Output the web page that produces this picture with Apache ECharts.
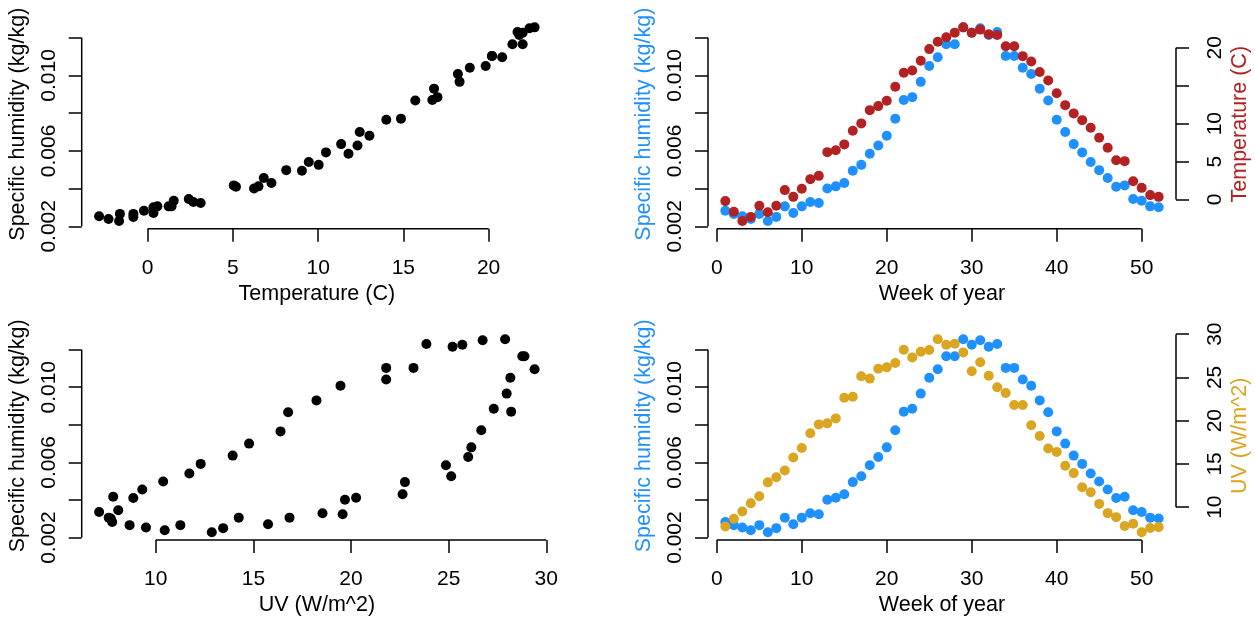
<!DOCTYPE html>
<html>
<head>
<meta charset="utf-8">
<title>Specific humidity, temperature and UV by week</title>
<script src="https://cdn.jsdelivr.net/npm/echarts@6/dist/echarts.min.js"></script>
<style>
  html, body { margin: 0; padding: 0; background: #ffffff; }
  #chart { width: 1255px; height: 617px; }
</style>
</head>
<body>
<div id="chart"></div>
<script>
// Weekly climate values (one entry per week of the year)
const weeks = [1, 2, 3, 4, 5, 6, 7, 8, 9, 10, 11, 12, 13, 14, 15, 16, 17, 18, 19, 20,
  21, 22, 23, 24, 25, 26, 27, 28, 29, 30, 31, 32, 33, 34, 35, 36, 37, 38, 39, 40,
  41, 42, 43, 44, 45, 46, 47, 48, 49, 50, 51, 52];

// Specific humidity (kg/kg)
const humidity = [0.00283, 0.00266, 0.00253, 0.00239, 0.00266, 0.00228, 0.00250, 0.00306,
  0.00271, 0.00306, 0.00329, 0.00324, 0.00401, 0.00412, 0.00430, 0.00495, 0.00526,
  0.00585, 0.00629, 0.00680, 0.00771, 0.00870, 0.00885, 0.00966, 0.01050, 0.01096,
  0.01165, 0.01165, 0.01255, 0.01226, 0.01250, 0.01215, 0.01230, 0.01103, 0.01103,
  0.01041, 0.01008, 0.00930, 0.00867, 0.00765, 0.00700, 0.00636, 0.00592, 0.00541,
  0.00498, 0.00456, 0.00410, 0.00417, 0.00345, 0.00336, 0.00306, 0.00301];

// Temperature (C)
const temperature = [-0.22, -1.63, -2.85, -2.30, -0.84, -1.68, -0.84, 1.23, 0.34, 1.40,
  2.68, 3.11, 6.24, 6.50, 7.26, 9.05, 10.03, 11.78, 12.31, 13.01, 14.86, 16.70, 17.00,
  18.30, 19.83, 20.80, 21.40, 22.00, 22.70, 22.00, 22.40, 21.80, 21.70, 20.20, 20.20,
  18.90, 18.20, 16.80, 15.70, 14.00, 12.44, 11.35, 10.46, 9.45, 8.13, 6.81, 5.18, 5.05,
  2.41, 1.53, 0.57, 0.34];

// UV (W/m^2)
const uv = [7.77, 8.66, 9.50, 10.46, 11.26, 12.87, 13.45, 14.25, 15.75, 16.85, 18.54,
  19.57, 19.69, 20.26, 22.64, 22.76, 25.13, 24.86, 26.00, 26.16, 26.67, 28.20, 27.31,
  27.97, 28.16, 29.40, 28.77, 28.88, 27.89, 25.70, 26.74, 25.20, 23.86, 23.20, 21.80,
  21.80, 19.46, 18.23, 16.78, 16.39, 14.78, 13.94, 12.30, 11.72, 10.38, 9.31, 8.85,
  7.82, 8.08, 7.10, 7.59, 7.70];

// Tick positions and the subset that carries a label
const humidityTicks = [0.002, 0.004, 0.006, 0.008, 0.010, 0.012];
const humidityLabels = [0.002, 0.006, 0.010];
const temperatureTicks = [0, 5, 10, 15, 20];
const temperatureLabelsX = [0, 5, 10, 15, 20];
const temperatureLabelsY = [0, 5, 10, 20];
const weekTicks = [0, 10, 20, 30, 40, 50];
const uvTicks = [10, 15, 20, 25, 30];

const FONT = "'Liberation Sans', Arial, Helvetica, sans-serif";
const BLUE = '#1E90FF';
const RED = '#B22222';
const GOLD = '#DAA520';
const TICK_FONT = 21;
const NAME_FONT = 21.5;

// Axis range padded by 4% on each side
function padRange(values) {
  const lo = Math.min.apply(null, values);
  const hi = Math.max.apply(null, values);
  const d = (hi - lo) * 0.04;
  return [lo - d, hi + d];
}

const humRange = padRange(humidity);
const tempRange = padRange(temperature);
const uvRange = padRange(uv);
const weekRange = padRange(weeks);

const fmtHum = v => v.toFixed(3);
const fmtInt = v => String(Math.round(v));

function xAxisDef(gridIndex, range, ticks, labels, name) {
  return {
    type: 'value', gridIndex: gridIndex, min: range[0], max: range[1],
    position: 'bottom',
    name: name, nameLocation: 'middle', nameGap: 54,
    nameTextStyle: { fontSize: NAME_FONT, color: '#000', fontFamily: FONT },
    axisLine: { show: false, onZero: false }, splitLine: { show: false },
    axisTick: { show: true, customValues: ticks, length: 13, lineStyle: { color: '#000', width: 1.5 } },
    axisLabel: { customValues: labels, fontSize: TICK_FONT, color: '#000', fontFamily: FONT, margin: 29, formatter: fmtInt }
  };
}

function yAxisDef(gridIndex, range, ticks, labels, name, color, position, fmt) {
  const right = position === 'right';
  return {
    type: 'value', gridIndex: gridIndex, min: range[0], max: range[1],
    position: position,
    name: name, nameLocation: 'middle', nameGap: 53,
    nameTextStyle: { fontSize: NAME_FONT, color: color, fontFamily: FONT },
    axisLine: { show: false, onZero: false }, splitLine: { show: false },
    axisTick: { show: true, customValues: ticks, length: 13, lineStyle: { color: '#000', width: 1.5 } },
    axisLabel: { customValues: labels, fontSize: TICK_FONT, color: '#000', fontFamily: FONT,
      rotate: 90, margin: right ? 29 : 22, formatter: fmt }
  };
}

// Axis lines that run from the first to the last tick, drawn at the plot edge
function axisLines(xIndex, yIndex, segments) {
  return {
    type: 'custom', xAxisIndex: xIndex, yAxisIndex: yIndex, silent: true, z: 1,
    data: [[segments[0][0][0], segments[0][0][1]]],
    renderItem: function (params, api) {
      return {
        type: 'group',
        children: segments.map(function (s) {
          const a = api.coord(s[0]);
          const b = api.coord(s[1]);
          return {
            type: 'line',
            shape: { x1: a[0], y1: a[1], x2: b[0], y2: b[1] },
            style: { stroke: '#000', lineWidth: 1.5 }
          };
        })
      };
    }
  };
}

function scatter(xIndex, yIndex, data, color, z) {
  return {
    type: 'scatter', xAxisIndex: xIndex, yAxisIndex: yIndex, data: data,
    symbol: 'circle', symbolSize: 10, z: z,
    itemStyle: { color: color, opacity: 1 },
    emphasis: { disabled: true }
  };
}

const last = a => a[a.length - 1];

const option = {
  animation: false,
  backgroundColor: '#ffffff',
  textStyle: { fontFamily: FONT },
  grid: [
    { left: 81.7, top: 19.6, width: 470.3, height: 209.2 },
    { left: 708, top: 19.6, width: 468, height: 209.2 },
    { left: 81.7, top: 331.6, width: 470.3, height: 209.2 },
    { left: 708, top: 331.6, width: 468, height: 209.2 }
  ],
  xAxis: [
    xAxisDef(0, tempRange, temperatureTicks, temperatureLabelsX, 'Temperature (C)'),
    xAxisDef(1, weekRange, weekTicks, weekTicks, 'Week of year'),
    xAxisDef(2, uvRange, uvTicks, uvTicks, 'UV (W/m^2)'),
    xAxisDef(3, weekRange, weekTicks, weekTicks, 'Week of year')
  ],
  yAxis: [
    yAxisDef(0, humRange, humidityTicks, humidityLabels, 'Specific humidity (kg/kg)', '#000', 'left', fmtHum),
    yAxisDef(1, humRange, humidityTicks, humidityLabels, 'Specific humidity (kg/kg)', BLUE, 'left', fmtHum),
    yAxisDef(1, tempRange, temperatureTicks, temperatureLabelsY, 'Temperature (C)', RED, 'right', fmtInt),
    yAxisDef(2, humRange, humidityTicks, humidityLabels, 'Specific humidity (kg/kg)', '#000', 'left', fmtHum),
    yAxisDef(3, humRange, humidityTicks, humidityLabels, 'Specific humidity (kg/kg)', BLUE, 'left', fmtHum),
    yAxisDef(3, uvRange, uvTicks, uvTicks, 'UV (W/m^2)', GOLD, 'right', fmtInt)
  ],
  series: [
    // humidity against temperature
    axisLines(0, 0, [
      [[temperatureTicks[0], humRange[0]], [last(temperatureTicks), humRange[0]]],
      [[tempRange[0], humidityTicks[0]], [tempRange[0], last(humidityTicks)]]
    ]),
    scatter(0, 0, temperature.map((t, i) => [t, humidity[i]]), '#000', 3),

    // humidity and temperature by week
    axisLines(1, 1, [
      [[weekTicks[0], humRange[0]], [last(weekTicks), humRange[0]]],
      [[weekRange[0], humidityTicks[0]], [weekRange[0], last(humidityTicks)]]
    ]),
    axisLines(1, 2, [
      [[weekRange[1], temperatureTicks[0]], [weekRange[1], last(temperatureTicks)]]
    ]),
    scatter(1, 1, weeks.map((w, i) => [w, humidity[i]]), BLUE, 3),
    scatter(1, 2, weeks.map((w, i) => [w, temperature[i]]), RED, 4),

    // humidity against UV
    axisLines(2, 3, [
      [[uvTicks[0], humRange[0]], [last(uvTicks), humRange[0]]],
      [[uvRange[0], humidityTicks[0]], [uvRange[0], last(humidityTicks)]]
    ]),
    scatter(2, 3, uv.map((u, i) => [u, humidity[i]]), '#000', 3),

    // humidity and UV by week
    axisLines(3, 4, [
      [[weekTicks[0], humRange[0]], [last(weekTicks), humRange[0]]],
      [[weekRange[0], humidityTicks[0]], [weekRange[0], last(humidityTicks)]]
    ]),
    axisLines(3, 5, [
      [[weekRange[1], uvTicks[0]], [weekRange[1], last(uvTicks)]]
    ]),
    scatter(3, 4, weeks.map((w, i) => [w, humidity[i]]), BLUE, 3),
    scatter(3, 5, weeks.map((w, i) => [w, uv[i]]), GOLD, 4)
  ]
};

const chart = echarts.init(document.getElementById('chart'), null, { renderer: 'canvas' });
chart.setOption(option);
</script>
</body>
</html>
